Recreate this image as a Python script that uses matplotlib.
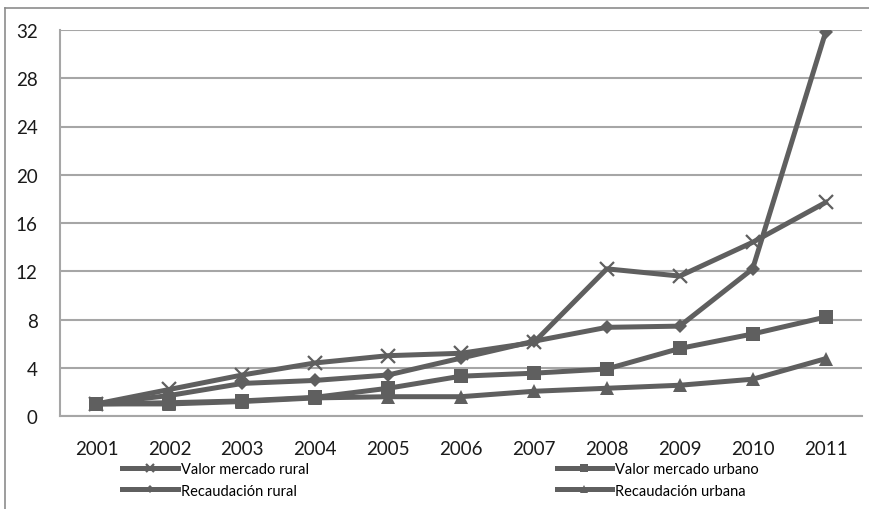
import matplotlib.pyplot as plt
from matplotlib.lines import Line2D

years = ['2001', '2002', '2003', '2004', '2005', '2006', '2007', '2008', '2009', '2010', '2011']
mercado_rural = [1, 2.2, 3.4, 4.4, 5.0, 5.2, 6.1, 12.2, 11.6, 14.4, 17.7]
mercado_urbano = [1, 1.1, 1.25, 1.55, 2.3, 3.3, 3.55, 3.9, 5.6, 6.8, 8.2]
recaudacion_rural = [1, 1.7, 2.7, 2.95, 3.4, 4.8, 6.2, 7.35, 7.45, 12.2, 31.8]
recaudacion_urbana = [1, 1.0, 1.2, 1.5, 1.6, 1.6, 2.05, 2.3, 2.55, 3.05, 4.75]
y_ticks = [0, 4, 8, 12, 16, 20, 24, 28, 32]

plt.rcParams['font.family'] = ['Lato', 'DejaVu Sans']
col = '#5f5f5f'
grid = '#a6a6a6'

fig = plt.figure(figsize=(8.69, 5.10), dpi=100)
W, H = 869, 510
ax = fig.add_axes([60 / W, (H - 417) / H, 802 / W, (417 - 31) / H])

x = list(range(len(years)))
ax.plot(x, mercado_rural, color=col, lw=3.6, marker='x', ms=10, mew=1.6,
        label='Valor mercado rural', zorder=3)
ax.plot(x, recaudacion_rural, color=col, lw=3.6, marker='D', ms=7.5, mew=0,
        label='Recaudación rural', zorder=3)
ax.plot(x, mercado_urbano, color=col, lw=3.6, marker='s', ms=10, mew=0,
        label='Valor mercado urbano', zorder=3)
ax.plot(x, recaudacion_urbana, color=col, lw=3.6, marker='^', ms=10, mew=0,
        label='Recaudación urbana', zorder=3)

ax.set_xlim(-0.5, len(years) - 0.5)
ax.set_ylim(0, 32)
ax.set_yticks(y_ticks)
ax.set_xticks(x)
ax.set_xticklabels(years)
ax.tick_params(length=0, labelsize=13.5, colors='#1a1a1a')
ax.tick_params(axis='x', pad=17)
ax.tick_params(axis='y', pad=16)
ax.yaxis.grid(True, color=grid, lw=1.5, zorder=0)
for s in ['top', 'right']:
    ax.spines[s].set_visible(False)
ax.spines['left'].set_color(grid)
ax.spines['left'].set_linewidth(1.5)
ax.spines['bottom'].set_color(grid)
ax.spines['bottom'].set_linewidth(1.5)

fig.legend(loc='upper left', bbox_to_anchor=(115 / W, 1 - 456 / H), ncol=2,
           frameon=False, fontsize=10.5, handlelength=3.8, handletextpad=0.2,
           columnspacing=17, labelspacing=0.5, markerscale=0.6, borderpad=0)

# outer frame (partly cut off)
fig.add_artist(Line2D([5 / W, 5 / W], [0, 1 - 9 / H], color='#8c8c8c', lw=1.2))
fig.add_artist(Line2D([5 / W, 1], [1 - 9 / H, 1 - 9 / H], color='#8c8c8c', lw=1.2))

fig.savefig('out.png', dpi=100)
